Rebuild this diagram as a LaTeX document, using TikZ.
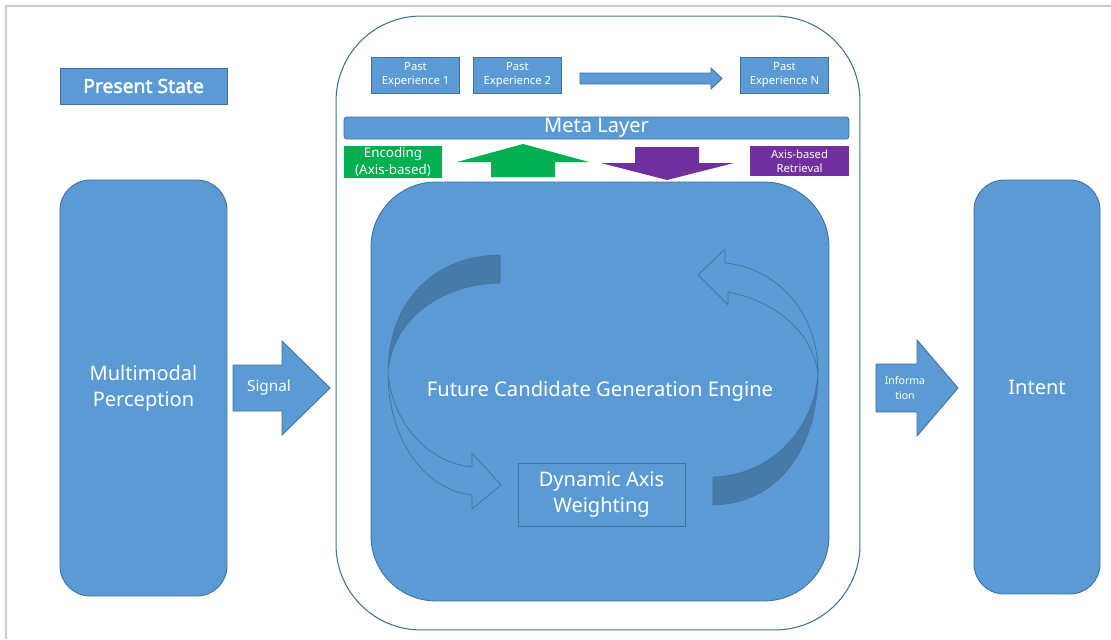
\documentclass[tikz,border=0pt]{standalone}
\usepackage{fontspec}
\setmainfont{Noto Sans}
\newfontfamily\presentfont{Noto Sans}[FakeBold=2.2]
\usepackage{tikz}
\usetikzlibrary{positioning}
\definecolor{boxblue}{HTML}{5B9BD5}
\definecolor{edgeblue}{HTML}{41719C}
\definecolor{bandblue}{HTML}{477BAA}
\definecolor{encgreen}{HTML}{00B050}
\definecolor{retpurple}{HTML}{7030A0}
\tikzstyle{stagebox} = [rectangle, rounded corners=0.6cm, minimum width=3.34cm, minimum height=8.32cm, text centered, align=center, draw=edgeblue, fill=boxblue, text=white, line width=0.5pt, font=\fontsize{11.4}{14.7}\selectfont]
\tikzstyle{labelbox} = [rectangle, text centered, align=center, draw=edgeblue, fill=boxblue, text=white, inner sep=0pt, line width=0.5pt]
\tikzstyle{pastbox} = [labelbox, minimum width=1.76cm, minimum height=0.72cm, font=\fontsize{6.4}{8}\selectfont]
\tikzstyle{tagbox} = [rectangle, text centered, align=center, text=white, inner sep=0pt, minimum height=0.62cm]
\tikzstyle{blockarrow} = [draw=edgeblue, fill=boxblue, line width=0.5pt]
\tikzstyle{ribbon} = [draw=edgeblue, line width=0.4pt]
\tikzstyle{band} = [draw=edgeblue, fill=bandblue, line width=0.3pt]

\begin{document}
\begin{tikzpicture}[x=0.02cm, y=-0.02cm, node distance=0.26cm]

        \useasboundingbox (0,0) rectangle (1111,639);
        \draw [gray!40, line width=0.8pt] (6,639) -- (6,6) -- (1111,6);

        \node (present) [labelbox, minimum width=3.34cm, minimum height=0.72cm, font=\presentfont\fontsize{11}{13}\selectfont] at (143.5,86) {Present State};
        \node (perception) [stagebox] at (143.5,388) {Multimodal\\Perception};
        \node (intent) [stagebox, minimum width=2.52cm, minimum height=8.28cm] at (1037,387) {Intent};

        \node (frame) [rectangle, rounded corners=1.7cm, minimum width=10.48cm, minimum height=12.28cm, draw=edgeblue, fill=white, line width=0.6pt] at (598,323) {};

        \node (past1) [pastbox] at (415.5,75) {Past\\Experience 1};
        \node (past2) [pastbox, right=of past1] {Past\\Experience 2};
        \node (pastN) [pastbox] at (784.5,75) {Past\\Experience N};
        \filldraw [blockarrow] (580,73) -- (711,73) -- (711,68) -- (722,78.5) -- (711,89) -- (711,84) -- (580,84) -- cycle;

        \node (meta) [labelbox, rounded corners=0.06cm, minimum width=10.1cm, minimum height=0.44cm, font=\fontsize{11.4}{13}\selectfont] at (596.5,128) {Meta Layer};

        \node (encoding) [tagbox, fill=encgreen, minimum width=1.96cm, minimum height=0.64cm, font=\fontsize{7.6}{9.6}\selectfont] at (393,162) {Encoding\\(Axis-based)};
        \node (retrieval) [tagbox, fill=retpurple, minimum width=1.98cm, minimum height=0.6cm, font=\fontsize{6.4}{8}\selectfont] at (799.5,161) {Axis-based\\Retrieval};
        \fill [encgreen] (491,177) -- (491,162) -- (457,162) -- (523,144) -- (589,162) -- (555,162) -- (555,177) -- cycle;
        \fill [retpurple] (635,147) -- (699,147) -- (699,163) -- (734,163) -- (667,180) -- (601,163) -- (635,163) -- cycle;

        \node (engine) [stagebox, rounded corners=1.3cm, minimum width=9.16cm, minimum height=8.38cm, font=\fontsize{11.5}{14}\selectfont] at (600,391.5) {Future Candidate Generation Engine};

        \filldraw [band] (500,255) .. controls (430,256) and (388,305) .. (388,373) .. controls (392,320) and (440,284) .. (500,283) -- cycle;
        \draw [ribbon] (388,373) .. controls (388,440) and (425,490) .. (472,495) -- (472,509) -- (501,485) -- (472,453) -- (472,467) .. controls (425,462) and (392,420) .. (388,373);
        \filldraw [band] (713,505) .. controls (785,503) and (818,440) .. (818,373) .. controls (815,425) and (775,475) .. (713,477) -- cycle;
        \draw [ribbon] (818,373) .. controls (818,310) and (775,268) .. (725,263) -- (725,249) -- (698,275) -- (728,305) -- (728,292) .. controls (772,300) and (812,330) .. (818,373);

        \node (weighting) [rectangle, align=center, draw=edgeblue, text=white, line width=0.5pt, minimum width=3.34cm, minimum height=1.26cm, inner sep=0pt, font=\fontsize{11.4}{14.7}\selectfont] at (601.5,494.5) {Dynamic Axis\\Weighting};

        \filldraw [blockarrow] (233,365) -- (282,365) -- (282,341) -- (330,388) -- (282,435) -- (282,411) -- (233,411) -- cycle;
        \node (signal) [text=white, font=\fontsize{8.7}{10}\selectfont] at (269,388) {Signal};
        \filldraw [blockarrow] (876,364) -- (917,364) -- (917,340) -- (958,388) -- (917,436) -- (917,412) -- (876,412) -- cycle;
        \node (info) [text=white, align=center, font=\fontsize{6}{8}\selectfont] at (905,388) {Informa\\tion};

    \end{tikzpicture}
\end{document}
